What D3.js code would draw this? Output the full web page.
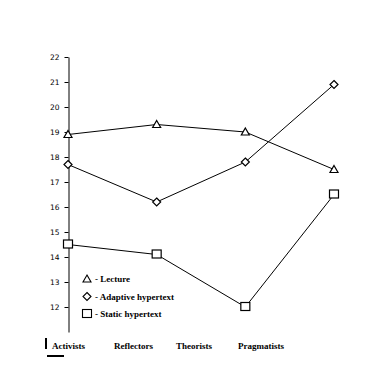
<!DOCTYPE html>
<html><head><meta charset="utf-8">
<script src="https://cdn.jsdelivr.net/npm/d3@7"></script>
<style>body{margin:0;background:#fff}</style>
</head><body>
<script>
const categories = ["Activists","Reflectors","Theorists","Pragmatists"];
const lecture = [18.9, 19.3, 19.0, 17.5];
const adaptive = [17.7, 16.2, 17.8, 20.9];
const staticHT = [14.5, 14.1, 12.0, 16.5];
const yTicks = [12,13,14,15,16,17,18,19,20,21,22];
const seriesNames = ["- Lecture","- Adaptive hypertext","- Static hypertext"];
const seriesData = [lecture, adaptive, staticHT];
const markers = ["triangle","diamond","square"];

const svg = d3.select("body").append("svg").attr("width",384).attr("height",384);
const x = d3.scalePoint().domain(categories).range([68,334]);
const xl = d3.scalePoint().domain(categories).range([52,238]);
const y = d3.scaleLinear().domain([11,22]).range([332,57]);

// y axis
const ax = svg.append("g").attr("transform","translate(68.5,0)")
  .call(d3.axisLeft(y).tickValues(yTicks).tickSize(4).tickSizeOuter(0).tickPadding(5));
ax.select(".domain").attr("stroke","#000");
ax.selectAll("text").attr("font-family","DejaVu Sans").attr("font-size",7.5).attr("fill","#000");

// category labels
svg.selectAll("text.cat").data(categories).enter().append("text")
  .attr("x",d=>xl(d)).attr("y",349)
  .attr("font-family","Liberation Serif").attr("font-size",9).attr("font-weight",600).text(d=>d);
svg.append("rect").attr("x",45).attr("y",338).attr("width",2).attr("height",11).attr("fill","#000");
svg.append("rect").attr("x",47).attr("y",355).attr("width",17).attr("height",2).attr("fill","#000");

const line = d3.line().x((d,i)=>x(categories[i])).y(d=>y(d));
function marker(g, type, cx, cy){
  if(type==="triangle") g.append("path").attr("d",`M${cx},${cy-4}L${cx+4},${cy+3}L${cx-4},${cy+3}Z`);
  else if(type==="diamond") g.append("path").attr("d",`M${cx},${cy-4}L${cx+4},${cy}L${cx},${cy+4}L${cx-4},${cy}Z`);
  else g.append("rect").attr("x",cx-4.5).attr("y",cy-4.5).attr("width",9).attr("height",8);
}
seriesData.forEach((s,k)=>{
  svg.append("path").datum(s).attr("d",line).attr("fill","none").attr("stroke","#000").attr("stroke-width",1);
  const g = svg.append("g").attr("fill","#fff").attr("stroke","#000").attr("stroke-width",1.2);
  s.forEach((v,i)=>marker(g, markers[k], x(categories[i]), y(v)));
});

// legend
const ly = d3.scalePoint().domain(seriesNames).range([279,314]);
seriesNames.forEach((n,k)=>{
  const g = svg.append("g").attr("fill","#fff").attr("stroke","#000").attr("stroke-width",1.1);
  marker(g, markers[k], 87, ly(n));
  svg.append("text").attr("x",95).attr("y",ly(n)+3).attr("font-family","Liberation Serif")
    .attr("font-size",9).attr("font-weight",600).text(n);
});
</script>
</body></html>
